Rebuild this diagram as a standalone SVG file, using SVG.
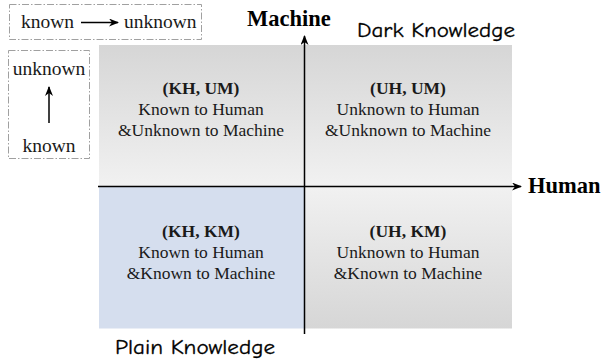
<svg xmlns="http://www.w3.org/2000/svg" width="605" height="363" viewBox="0 0 605 363">
<defs>
<linearGradient id="gTop" x1="0" y1="0" x2="0" y2="1">
<stop offset="0" stop-color="#d6d6d6"/>
<stop offset="1" stop-color="#f1f1f1"/>
</linearGradient>
<linearGradient id="gBot" x1="0" y1="0" x2="0" y2="1">
<stop offset="0" stop-color="#f1f1f1"/>
<stop offset="1" stop-color="#d6d6d6"/>
</linearGradient>
<marker id="arr" markerWidth="10" markerHeight="8" refX="9" refY="4" orient="auto" markerUnits="userSpaceOnUse">
<path d="M0,0 L10,4 L0,8 L3,4 Z" fill="#000"/>
</marker>
</defs>
<style>
.serif{font-family:"Liberation Serif","Times New Roman",serif;fill:#1a1a1a}
.q{font-size:17.5px;text-anchor:middle}
.qb{font-size:17.5px;text-anchor:middle;font-weight:bold}
.ax{font-size:22.5px;font-weight:bold;fill:#000}
.leg{font-size:19.5px}
.hand{font-family:"Comic Sans MS","Comic Neue","DejaVu Sans",sans-serif;font-size:21px;fill:#000;stroke:#000;stroke-width:0.3}
.dash{fill:none;stroke:#a0a0a0;stroke-width:1;stroke-dasharray:7 2 1.5 2}
.axis{stroke:#000;stroke-width:1.5;fill:none}
</style>

<g id="legend-horizontal">
<rect class="dash" x="9.5" y="4.5" width="192" height="35"/>
<text class="serif leg" x="21" y="28">known</text>
<line x1="81" y1="22.5" x2="118" y2="22.5" stroke="#000" stroke-width="1.5" marker-end="url(#arr)"/>
<text class="serif leg" x="124" y="28">unknown</text>
</g>

<g id="legend-vertical">
<rect class="dash" x="8.5" y="50.5" width="81" height="108"/>
<text class="serif leg" x="49" y="75" text-anchor="middle">unknown</text>
<line x1="49" y1="123" x2="49" y2="87" stroke="#000" stroke-width="1.5" marker-end="url(#arr)"/>
<text class="serif leg" x="49" y="152" text-anchor="middle">known</text>
</g>

<g id="q-kh-um">
<rect x="99" y="45" width="205.5" height="141.5" fill="url(#gTop)"/>
<text class="serif qb" x="201" y="94">(KH, UM)</text>
<text class="serif q" x="201" y="115">Known to Human</text>
<text class="serif q" x="201" y="136">&amp;Unknown to Machine</text>
</g>

<g id="q-uh-um">
<rect x="304.5" y="45" width="207.5" height="141.5" fill="url(#gTop)"/>
<text class="serif qb" x="408" y="94">(UH, UM)</text>
<text class="serif q" x="408" y="115">Unknown to Human</text>
<text class="serif q" x="408" y="136">&amp;Unknown to Machine</text>
</g>

<g id="q-kh-km">
<rect x="99" y="186.5" width="205.5" height="142" fill="#d5deee"/>
<text class="serif qb" x="201" y="237">(KH, KM)</text>
<text class="serif q" x="201" y="258">Known to Human</text>
<text class="serif q" x="201" y="279">&amp;Known to Machine</text>
</g>

<g id="q-uh-km">
<rect x="304.5" y="186.5" width="207.5" height="142" fill="url(#gBot)"/>
<text class="serif qb" x="408" y="237">(UH, KM)</text>
<text class="serif q" x="408" y="258">Unknown to Human</text>
<text class="serif q" x="408" y="279">&amp;Known to Machine</text>
</g>

<g id="connectors">
<line class="axis" x1="98" y1="186.5" x2="521" y2="186.5" marker-end="url(#arr)"/>
<line class="axis" x1="304.5" y1="334" x2="304.5" y2="36" marker-end="url(#arr)"/>
</g>

<g id="labels">
<text class="serif ax" x="247" y="26">Machine</text>
<text class="serif ax" x="528" y="193">Human</text>
<text class="hand" x="357" y="37" textLength="158" lengthAdjust="spacingAndGlyphs">Dark Knowledge</text>
<text class="hand" x="115" y="354" textLength="160" lengthAdjust="spacingAndGlyphs">Plain Knowledge</text>
</g>
</svg>
